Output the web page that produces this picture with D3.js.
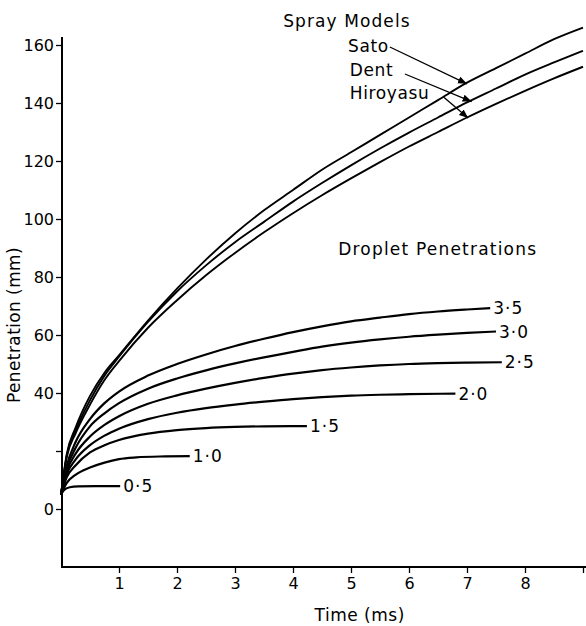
<!DOCTYPE html>
<html>
<head>
<meta charset="utf-8">
<script src="https://cdn.jsdelivr.net/npm/d3@7"></script>
<style>
    body { margin: 0; background: #fff; }
    text { font-family: "DejaVu Sans", sans-serif; fill: #000; }
</style>
</head>
<body>
<div id="chart"></div>
<script>
// spray model penetration curves [time ms, penetration mm]
var sato = [[0, 5], [0.1, 19], [0.25, 28], [0.5, 39], [0.75, 47], [1, 53], [1.5, 65], [2, 76], [2.5, 86], [3, 95], [3.5, 103], [4, 110], [4.5, 117], [5, 123], [5.5, 129], [6, 135], [6.5, 141], [7, 147], [7.5, 152], [8, 157], [8.5, 162], [9, 166]]
var dent = [[0, 5], [0.1, 18.5], [0.25, 27], [0.5, 37.5], [0.75, 46], [1, 52.5], [1.5, 64.5], [2, 75], [2.5, 84], [3, 92], [3.5, 99], [4, 106], [4.5, 112.4], [5, 118.5], [5.5, 124.3], [6, 129.8], [6.5, 135], [7, 140.2], [7.5, 145], [8, 149.8], [8.5, 154], [9, 158]]
var hiroyasu = [[0, 5], [0.1, 18], [0.25, 26], [0.5, 36], [0.75, 44.5], [1, 51], [1.5, 62.5], [2, 72], [2.5, 80.6], [3, 88.3], [3.5, 95.4], [4, 102], [4.5, 108.2], [5, 114], [5.5, 119.6], [6, 125], [6.5, 130], [7, 135], [7.5, 139.7], [8, 144.2], [8.5, 148.5], [9, 152.5]]

// droplet penetrations, one per droplet size
var drop35 = [[0, 5], [0.1, 15], [0.25, 23], [0.5, 31], [0.75, 36.5], [1, 40.5], [1.5, 46], [2, 50], [2.5, 53.3], [3, 56.2], [3.5, 58.7], [4, 61], [4.5, 63], [5, 64.7], [5.5, 66], [6, 67.2], [6.5, 68.1], [7, 68.8], [7.4, 69.3]]
var drop30 = [[0, 5], [0.1, 14], [0.25, 21], [0.5, 28.5], [0.75, 33], [1, 36.5], [1.5, 41.5], [2, 45], [2.5, 47.8], [3, 50.2], [3.5, 52.3], [4, 54.2], [4.5, 56], [5, 57.4], [5.5, 58.5], [6, 59.4], [6.5, 60.1], [7, 60.7], [7.5, 61.2]]
var drop25 = [[0, 5], [0.1, 13], [0.25, 19], [0.5, 25], [0.75, 29], [1, 32], [1.5, 36.3], [2, 39.2], [2.5, 41.5], [3, 43.5], [3.5, 45.2], [4, 46.7], [4.5, 47.9], [5, 48.8], [5.5, 49.5], [6, 50], [6.5, 50.3], [7, 50.5], [7.6, 50.6]]
var drop20 = [[0, 5], [0.1, 12], [0.25, 17], [0.5, 22], [0.75, 25.3], [1, 27.7], [1.5, 31], [2, 33.2], [2.5, 34.8], [3, 36], [3.5, 37], [4, 37.9], [4.5, 38.6], [5, 39.1], [5.5, 39.4], [6, 39.6], [6.8, 39.8]]
var drop15 = [[0, 5], [0.1, 11], [0.25, 15], [0.5, 19.5], [0.75, 22], [1, 23.8], [1.5, 26], [2, 27.2], [2.5, 27.9], [3, 28.3], [3.5, 28.5], [4.24, 28.6]]
var drop10 = [[0, 5], [0.1, 9], [0.25, 11.8], [0.5, 14.3], [0.75, 16], [1, 17.2], [1.3, 17.8], [1.7, 18.1], [2.22, 18.2]]
var drop05 = [[0, 5], [0.05, 6.5], [0.15, 7.5], [0.3, 7.8], [0.6, 7.9], [1.02, 7.9]]

var dropNames = ['3·5', '3·0', '2·5', '2·0', '1·5', '1·0', '0·5']
var spraySeries = [sato, dent, hiroyasu]
var sprayNames = ['Sato', 'Dent', 'Hiroyasu']
// label position, leader start, arrow tip (data units)
var sprayLabelPos = [[4.95, 157.6], [4.98, 149.3], [4.98, 141.4]]
var sprayLeadFrom = [[5.67, 159.3], [5.93, 150], [6.6, 142]]
var sprayLeadTo = [[7.0, 146.6], [7.08, 140.5], [7.02, 134.8]]

var xTicks = [1, 2, 3, 4, 5, 6, 7, 8, 9]
var xTickLabels = ['1', '2', '3', '4', '5', '6', '7', '8', '']
var yTicks = [0, 20, 40, 60, 80, 100, 120, 140, 160]
var yTickLabels = ['0', '', '40', '60', '80', '100', '120', '140', '160']

var width = 586
var height = 626

var svg = d3.select('#chart').append('svg')
    .attr('width', width)
    .attr('height', height)

var X = d3.scaleLinear().domain([0, 9]).range([61, 583])
var Y = d3.scaleLinear().domain([-20, 160]).range([567, 45])

var line = d3.line()
    .x(function (d) { return X(d[0]) })
    .y(function (d) { return Y(d[1]) })
    .curve(d3.curveMonotoneX)

// axes
var xAxis = svg.append('g')
    .attr('transform', 'translate(0,' + Y(-20) + ')')
    .call(d3.axisBottom(X).tickValues(xTicks).tickSize(6).tickPadding(5)
        .tickFormat(function (d, i) { return xTickLabels[i] }))
xAxis.select('.domain').attr('d', 'M' + (X(0) + 1) + ',0H586').attr('stroke-width', 2)
xAxis.selectAll('line').attr('stroke-width', 1.3)
xAxis.selectAll('text').attr('font-size', 16).attr('font-family', 'DejaVu Sans')

var yAxis = svg.append('g')
    .attr('transform', 'translate(' + (X(0) + 1) + ',0)')
    .call(d3.axisLeft(Y).tickValues(yTicks).tickSize(6).tickPadding(2)
        .tickFormat(function (d, i) { return yTickLabels[i] }))
yAxis.select('.domain').attr('d', 'M0,37V' + (Y(-20) + 1)).attr('stroke-width', 2)
yAxis.selectAll('line').attr('stroke-width', 1.3)
yAxis.selectAll('text').attr('font-size', 16).attr('font-family', 'DejaVu Sans')

svg.append('text')
    .attr('transform', 'translate(20,' + 325 + ') rotate(-90)')
    .attr('text-anchor', 'middle')
    .attr('font-size', 17)
    .attr('letter-spacing', 0.4)
    .text('Penetration (mm)')

svg.append('text')
    .attr('x', X(5.15))
    .attr('y', 621)
    .attr('text-anchor', 'middle')
    .attr('font-size', 17)
    .attr('letter-spacing', 0.5)
    .text('Time (ms)')

// curves
var drops = [drop35, drop30, drop25, drop20, drop15, drop10, drop05]
svg.append('g').selectAll('path.drop')
    .data(drops)
    .enter()
    .append('path')
    .attr('class', 'drop')
    .attr('d', line)
    .attr('fill', 'none')
    .attr('stroke', '#000')
    .attr('stroke-width', 2.2)

svg.append('g').selectAll('text')
    .data(drops)
    .enter()
    .append('text')
    .attr('x', function (d) { return X(d[d.length - 1][0]) + 3 })
    .attr('y', function (d) { return Y(d[d.length - 1][1]) + 6 })
    .attr('font-size', 17)
    .attr('letter-spacing', 1)
    .text(function (d, i) { return dropNames[i] })

svg.append('g').selectAll('path.spray')
    .data(spraySeries)
    .enter()
    .append('path')
    .attr('class', 'spray')
    .attr('d', line)
    .attr('fill', 'none')
    .attr('stroke', '#000')
    .attr('stroke-width', 1.9)

// labels
svg.append('text')
    .attr('x', X(3.83))
    .attr('y', Y(166.2))
    .attr('font-size', 17)
    .attr('letter-spacing', 1.1)
    .text('Spray Models')

svg.append('text')
    .attr('x', X(4.78))
    .attr('y', Y(87.6))
    .attr('font-size', 17)
    .attr('letter-spacing', 1.2)
    .text('Droplet Penetrations')

svg.append('defs').append('marker')
    .attr('id', 'arrow')
    .attr('viewBox', '0 0 10 10')
    .attr('refX', 10)
    .attr('refY', 5)
    .attr('markerWidth', 7)
    .attr('markerHeight', 7)
    .attr('orient', 'auto')
    .append('path')
    .attr('d', 'M0,1L10,5L0,9Z')
    .attr('fill', '#000')

var sprayLab = svg.append('g').selectAll('g')
    .data(sprayNames)
    .enter()
    .append('g')
sprayLab.append('text')
    .attr('x', function (d, i) { return X(sprayLabelPos[i][0]) })
    .attr('y', function (d, i) { return Y(sprayLabelPos[i][1]) })
    .attr('font-size', 17)
    .attr('letter-spacing', 0.6)
    .text(function (d) { return d })
sprayLab.append('line')
    .attr('x1', function (d, i) { return X(sprayLeadFrom[i][0]) })
    .attr('y1', function (d, i) { return Y(sprayLeadFrom[i][1]) })
    .attr('x2', function (d, i) { return X(sprayLeadTo[i][0]) })
    .attr('y2', function (d, i) { return Y(sprayLeadTo[i][1]) })
    .attr('stroke', '#000')
    .attr('stroke-width', 1.3)
    .attr('marker-end', 'url(#arrow)')
</script>
</body>
</html>
